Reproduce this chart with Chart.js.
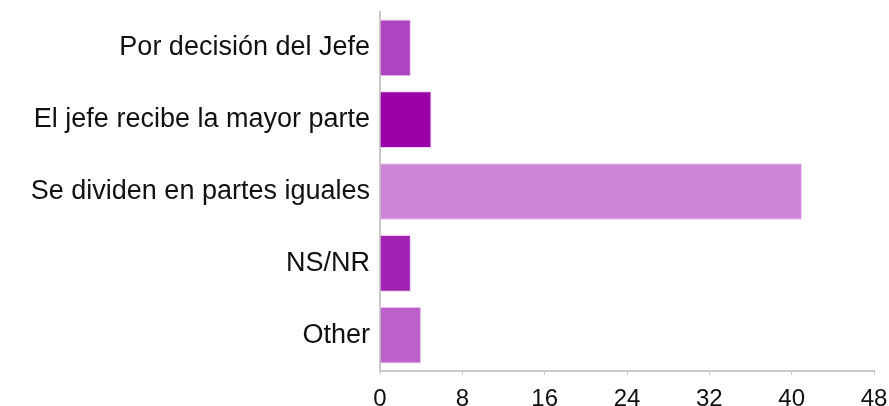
<!DOCTYPE html>
<html>
<head>
<meta charset="utf-8">
<script src="https://cdn.jsdelivr.net/npm/chart.js@4.4.0/dist/chart.umd.min.js"></script>
<style>
  html, body { margin: 0; padding: 0; background: #ffffff; }
  #wrap { width: 889px; height: 406px; position: relative; }
</style>
</head>
<body>
<div id="wrap"><canvas id="c"></canvas></div>
<script>
const categories = ["Por decisión del Jefe", "El jefe recibe la mayor parte", "Se dividen en partes iguales", "NS/NR", "Other"];
const counts = [3, 5, 41, 3, 4];
const barColors = ["#AF44C1", "#9900A8", "#CC84D7", "#A121B3", "#BD61CA"];
const xTicks = [0, 8, 16, 24, 32, 40, 48];

new Chart(document.getElementById('c'), {
  type: 'bar',
  data: {
    labels: categories,
    datasets: [{
      data: counts,
      backgroundColor: barColors,
      borderColor: 'rgba(235,200,240,0.9)',
      borderWidth: 1,
      barPercentage: 0.79,
      categoryPercentage: 1.0
    }]
  },
  options: {
    indexAxis: 'y',
    responsive: true,
    maintainAspectRatio: false,
    animation: false,
    layout: { padding: { top: 12, right: 0, bottom: 0, left: 0 } },
    plugins: { legend: { display: false }, tooltip: { enabled: false } },
    scales: {
      x: {
        min: 0, max: 48,
        afterBuildTicks: (axis) => { axis.ticks = xTicks.map(v => ({ value: v })); },
        afterFit: (axis) => { axis.height = 35; axis.paddingRight = 15; axis.paddingLeft = 0; },
        grid: { drawOnChartArea: false, color: '#c8c8c8', tickLength: 4 },
        border: { display: true, color: '#c8c8c8', width: 2 },
        ticks: { color: '#111', font: { family: 'Liberation Sans', size: 24 }, padding: 10 }
      },
      y: {
        afterFit: (axis) => { axis.width = 380; axis.paddingTop = 0; axis.paddingBottom = 0; },
        grid: { display: false },
        border: { display: true, color: '#c8c8c8', width: 2 },
        ticks: { color: '#111', font: { family: 'Liberation Sans', size: 27 }, padding: 2, crossAlign: 'near' }
      }
    }
  }
});
</script>
</body>
</html>
